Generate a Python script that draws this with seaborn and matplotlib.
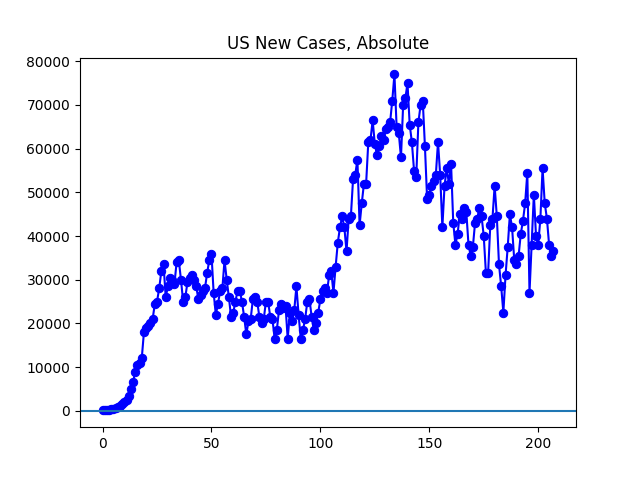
import matplotlib
matplotlib.use("Agg")
import matplotlib.pyplot as plt
import seaborn as sns

cases = [100,100,200,300,400,500,700,900,1200,1500,2000,
 2500,3500,5000,6500,9000,10500,11000,12000,18000,19000,
 19500,20000,21000,24500,25000,28000,32000,33500,26000,28500,30500,30000,29000,34000,34500,30000,25000,26000,29500,30500,31000,30000,
 28500,25500,26500,27500,28000,31500,34500,36000,27000,22000,24500,27500,28000,34500,30000,26000,21500,22500,25000,27500,27500,
 25000,21500,17500,20500,21000,25500,26000,25000,21500,20000,21000,25000,25000,21500,21000,16500,18500,23000,24500,23500,
 24000,16500,22500,20500,23000,28500,22000,16500,18500,21000,25000,25500,21500,18500,20000,22500,25500,27500,28000,27000,31000,
 32000,27000,33000,38500,42000,44500,42000,36500,44000,44500,53000,54000,57500,42500,47500,52000,52000,61500,62000,66500,61000,
 58500,60500,63000,62000,64500,65000,66000,71000,77000,65000,63500,58000,70000,71500,75000,65500,61500,55000,53500,66000,70000,71000,60500,
 48500,49500,51500,52500,54000,61500,54000,42000,51500,55500,52000,56500,43000,38000,40500,45000,44000,46500,45500,38000,
 35500,37500,43000,44000,46500,44500,40000,31500,31500,42500,44000,51500,44500,33500,28500,22500,31000,37500,45000,42000,34500,
 33500,35500,40500,43500,47500,54500,27000,38000,49500,40000,38000,44000,55500,47500,44000,38000,35500,36500]
days = list(range(len(cases)))

fig, ax = plt.subplots(figsize=(6.4, 4.8), dpi=100)
sns.lineplot(x=days, y=cases, ax=ax, color="blue", marker="o", markersize=6,
             markeredgecolor="blue", linewidth=1.5)
ax.axhline(0, color="C0")
ax.set_title("US New Cases, Absolute")
ax.set_yticks(range(0, 80001, 10000))
fig.savefig("out.png")
